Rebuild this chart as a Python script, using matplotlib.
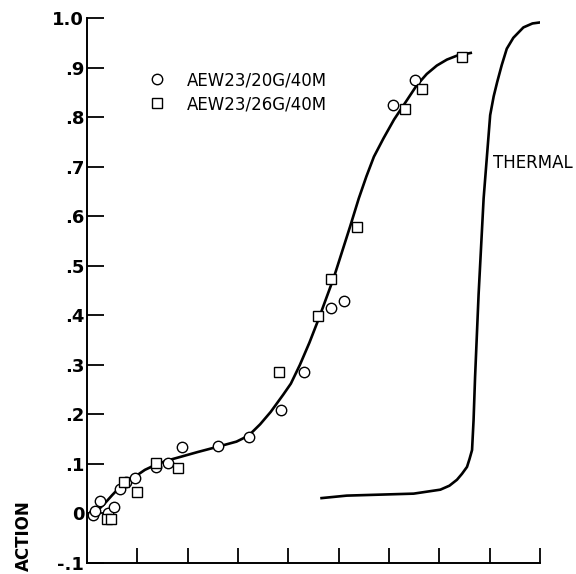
import matplotlib.pyplot as plt
from matplotlib.lines import Line2D

# data (x in tick units, y as fraction)
x_20g = [0.11, 0.16, 0.25, 0.42, 0.54, 0.66, 0.78, 0.95, 1.37, 1.60, 1.88, 2.61, 3.21,
         3.85, 4.31, 4.85, 5.11, 6.07, 6.52]
y_20g = [-0.003, 0.004, 0.025, 0.001, 0.013, 0.049, 0.064, 0.072, 0.093, 0.102, 0.135,
         0.136, 0.155, 0.209, 0.285, 0.414, 0.428, 0.825, 0.874]

x_26g = [0.40, 0.48, 0.74, 0.99, 1.38, 1.80, 3.82, 4.58, 4.84, 5.37, 6.32, 6.65, 7.45]
y_26g = [-0.012, -0.012, 0.064, 0.044, 0.102, 0.091, 0.285, 0.398, 0.473, 0.578,
         0.817, 0.856, 0.921]

fit_x = [0.06, 0.20, 0.35, 0.50, 0.66, 0.80, 0.95, 1.15, 1.38, 1.60, 1.85, 2.20, 2.61,
         2.97, 3.21, 3.44, 3.65, 3.90, 4.05, 4.23, 4.42, 4.60, 4.90, 5.23, 5.40, 5.55,
         5.70, 5.89, 6.10, 6.29, 6.55, 6.75, 6.95, 7.15, 7.35, 7.65]
fit_y = [-0.009, 0.005, 0.020, 0.037, 0.054, 0.066, 0.074, 0.088, 0.099, 0.107, 0.114,
         0.124, 0.135, 0.145, 0.157, 0.180, 0.205, 0.240, 0.262, 0.300, 0.345, 0.392,
         0.475, 0.580, 0.636, 0.680, 0.720, 0.757, 0.795, 0.824, 0.864, 0.887, 0.904,
         0.916, 0.924, 0.930]

thermal_x = [4.66, 5.16, 6.49, 7.02, 7.20, 7.35, 7.45, 7.55, 7.60, 7.65, 7.68, 7.71,
             7.78, 7.88, 8.01, 8.08, 8.15, 8.24, 8.34, 8.47, 8.67, 8.85, 9.07]
thermal_y = [0.031, 0.036, 0.040, 0.048, 0.056, 0.068, 0.080, 0.094, 0.110, 0.128,
             0.188, 0.275, 0.442, 0.636, 0.804, 0.842, 0.871, 0.905, 0.938, 0.960,
             0.981, 0.989, 0.992]

yticks = [-0.1, 0, 0.1, 0.2, 0.3, 0.4, 0.5, 0.6, 0.7, 0.8, 0.9, 1.0]
ytick_labels = ['-.1', '0', '.1', '.2', '.3', '.4', '.5', '.6', '.7', '.8', '.9', '1.0']
xticks = [1, 2, 3, 4, 5, 6, 7, 8, 9]

narrow = ['Liberation Sans Narrow', 'DejaVu Sans']

fig = plt.figure(figsize=(5.76, 5.74), dpi=100)
W, H = 576, 574
ax = fig.add_axes([87 / W, (H - 563) / H, (540 - 87) / W, (563 - 18) / H])

ax.plot(fit_x, fit_y, color='black', lw=1.9, solid_capstyle='butt', solid_joinstyle='round')
ax.plot(thermal_x, thermal_y, color='black', lw=1.9, solid_joinstyle='round')
ax.plot(x_20g, y_20g, 'o', ms=7.5, mfc='white', mec='black', mew=1.0, ls='none')
ax.plot(x_26g, y_26g, 's', ms=7.0, mfc='white', mec='black', mew=1.0, ls='none')

ax.set_xlim(0, 9)
ax.set_ylim(-0.1, 1.0)
ax.set_xticks(xticks)
ax.set_xticklabels([])
ax.set_yticks(yticks)
ax.set_yticklabels(ytick_labels, fontsize=13, fontweight='bold', family=narrow)
ax.tick_params(axis='y', direction='in', length=12, width=1.3, pad=2)
ax.tick_params(axis='x', direction='in', length=11, width=1.3)
for s in ['top', 'right']:
    ax.spines[s].set_visible(False)
for s in ['left', 'bottom']:
    ax.spines[s].set_linewidth(1.4)

ax.text(8.07, 0.707, 'THERMAL', fontsize=12, family=narrow, va='center', ha='left')

handles = [Line2D([], [], marker='o', ls='none', ms=7.5, mfc='white', mec='black'),
           Line2D([], [], marker='s', ls='none', ms=7.0, mfc='white', mec='black')]
fig.legend(handles, ['AEW23/20G/40M', 'AEW23/26G/40M'], loc='upper left',
           bbox_to_anchor=(140 / W, 1 - 63 / H), frameon=False, handlelength=1.0,
           handletextpad=1.3, labelspacing=0.35, borderpad=0,
           prop={'family': narrow, 'size': 12})

fig.text(24 / W, 3 / H, 'ACTION', rotation=90, va='bottom', ha='center',
         fontsize=12, fontweight='bold', family=narrow)

fig.savefig('out.png', dpi=100)
